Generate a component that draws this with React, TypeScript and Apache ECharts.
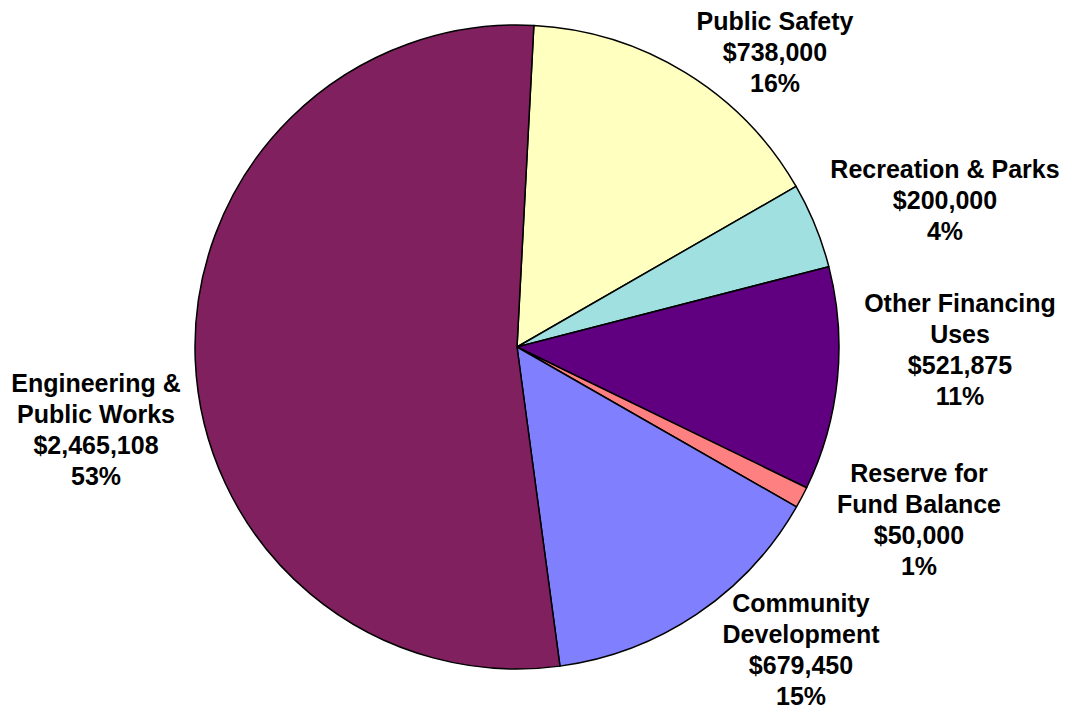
import React, { useEffect, useRef } from "react";
import * as echarts from "echarts";

const categories = [
  "Public Safety",
  "Recreation & Parks",
  "Other Financing\nUses",
  "Reserve for\nFund Balance",
  "Community\nDevelopment",
  "Engineering &\nPublic Works",
];
const values = [738000, 200000, 521875, 50000, 679450, 2465108];
const colors = ["#FFFFC0", "#A0E0E0", "#600080", "#FF8080", "#8080FF", "#80205F"];

// label centers (layout, px)
const labelAnchors: [number, number][] = [
  [775, 52],
  [945, 200],
  [960, 349],
  [919, 519],
  [801, 649],
  [96, 429],
];

const total = values.reduce((a, b) => a + b, 0);
const fmtMoney = (v: number) => "$" + v.toLocaleString("en-US");

export default function App() {
  const ref = useRef<HTMLDivElement>(null);
  useEffect(() => {
    if (!ref.current) return;
    const chart = echarts.init(ref.current, undefined, { renderer: "svg" });
    chart.setOption({
      animation: false,
      backgroundColor: "#ffffff",
      series: [
        {
          type: "pie",
          center: [517, 347],
          radius: 322,
          startAngle: 87,
          clockwise: true,
          data: categories.map((name, i) => ({
            name,
            value: values[i],
            itemStyle: { color: colors[i] },
          })),
          itemStyle: { borderColor: "#000000", borderWidth: 1.5 },
          emphasis: { disabled: true },
          label: {
            show: true,
            position: "outside",
            alignTo: "none",
            overflow: "none",
            formatter: (p: any) =>
              `${p.name}\n${fmtMoney(p.value)}\n${Math.round((p.value / total) * 100)}%`,
            fontFamily: "Liberation Sans, Arial, sans-serif",
            fontWeight: "bold",
            fontSize: 25,
            lineHeight: 31,
            color: "#000000",
            align: "center",
          },
          labelLine: { show: false },
          labelLayout: (params: any) => {
            const [x, y] = labelAnchors[params.dataIndex];
            return { x, y, align: "center", verticalAlign: "middle", width: 300 };
          },
        },
      ],
    });
    return () => chart.dispose();
  }, []);
  return (
    <div
      ref={ref}
      style={{ position: "absolute", left: 0, top: 0, width: 1067, height: 710 }}
    />
  );
}
